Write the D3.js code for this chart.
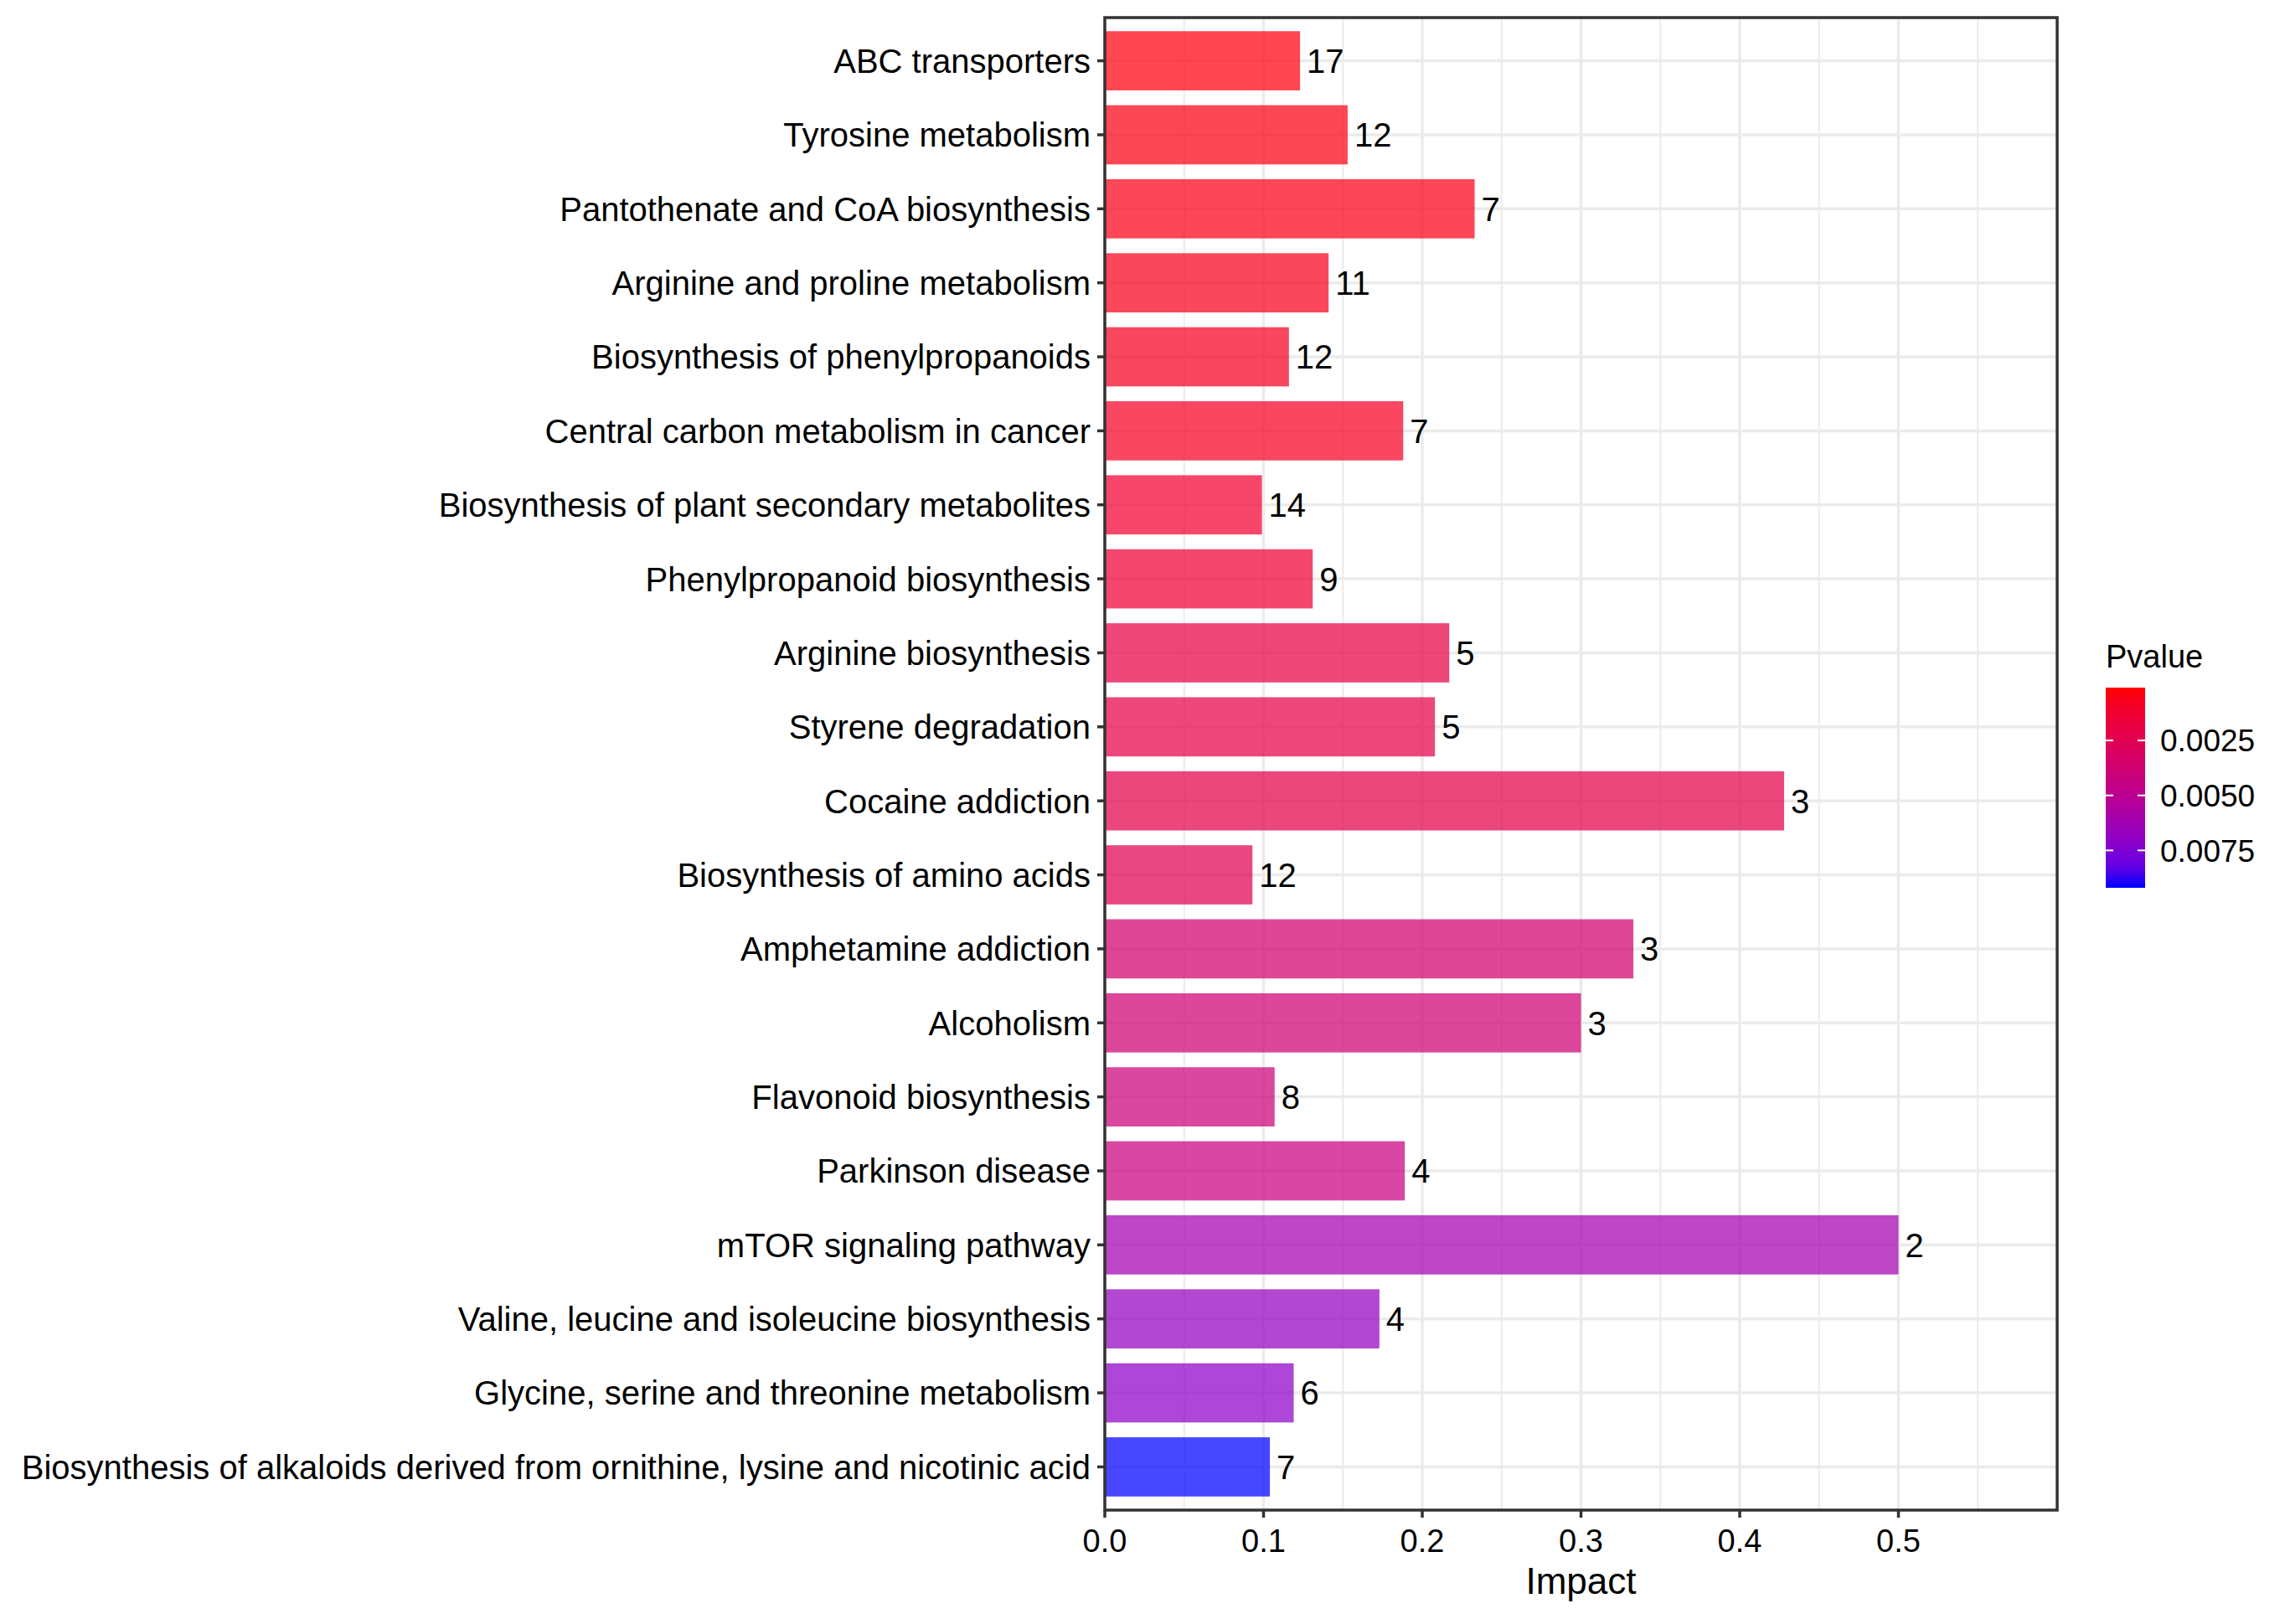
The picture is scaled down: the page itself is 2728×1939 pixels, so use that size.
<!DOCTYPE html>
<html><head><meta charset="utf-8">
<script src="https://cdn.jsdelivr.net/npm/d3@7"></script>
<style>body{margin:0;background:#fff}text{font-family:"Liberation Sans",Arial,sans-serif}</style>
</head><body><svg id="chart" width="2728" height="1939"></svg>
<script>
// pathway data, top to bottom
const pathways = ["ABC transporters","Tyrosine metabolism","Pantothenate and CoA biosynthesis","Arginine and proline metabolism","Biosynthesis of phenylpropanoids","Central carbon metabolism in cancer","Biosynthesis of plant secondary metabolites","Phenylpropanoid biosynthesis","Arginine biosynthesis","Styrene degradation","Cocaine addiction","Biosynthesis of amino acids","Amphetamine addiction","Alcoholism","Flavonoid biosynthesis","Parkinson disease","mTOR signaling pathway","Valine, leucine and isoleucine biosynthesis","Glycine, serine and threonine metabolism","Biosynthesis of alkaloids derived from ornithine, lysine and nicotinic acid"];
const impact = [0.123,0.153,0.233,0.141,0.116,0.188,0.099,0.131,0.217,0.208,0.428,0.093,0.333,0.300,0.107,0.189,0.500,0.173,0.119,0.104];
const counts = [17,12,7,11,12,7,14,9,5,5,3,12,3,3,8,4,2,4,6,7];
const pvalue = [0.0003,0.0004,0.0005,0.0006,0.0008,0.0009,0.0012,0.0014,0.0020,0.0021,0.0022,0.0025,0.0035,0.0038,0.0040,0.0043,0.0062,0.0068,0.0071,0.0092];
const xTicks = [0,0.1,0.2,0.3,0.4,0.5];
const pTicks = [0.0025,0.0050,0.0075];

const svg = d3.select("#chart");
const L = 1319, R = 2456, T = 21, B = 1803;
const x = d3.scaleLinear().domain([0,0.6]).range([L,R]);
const y = d3.scaleBand().domain(pathways).range([T+3,B-3]).paddingInner(0.2).paddingOuter(0.15);
const pMin = 0.0001, pMax = 0.0092;
const col = d3.scaleLinear().domain([pMin,pMax]).range(["#ff0000","#0000ff"]).interpolate(d3.interpolateLab).clamp(true);

// grid
const g = svg.append("g");
d3.range(0,0.6,0.05).forEach((v,i)=>{
  g.append("line").attr("x1",x(v)).attr("x2",x(v)).attr("y1",T).attr("y2",B)
   .attr("stroke","#ebebeb").attr("stroke-width",i%2?2:3.5);
});
pathways.forEach(p=>{
  const cy = y(p)+y.bandwidth()/2;
  g.append("line").attr("x1",L).attr("x2",R).attr("y1",cy).attr("y2",cy).attr("stroke","#ebebeb").attr("stroke-width",3.5);
});

// bars
svg.selectAll("rect.bar").data(pathways).enter().append("rect")
  .attr("x",x(0)).attr("y",d=>y(d)).attr("height",y.bandwidth())
  .attr("width",(d,i)=>x(impact[i])-x(0))
  .attr("fill",(d,i)=>col(pvalue[i])).attr("fill-opacity",0.72);
svg.selectAll("text.cnt").data(pathways).enter().append("text")
  .attr("x",(d,i)=>x(impact[i])+8).attr("y",d=>y(d)+y.bandwidth()/2)
  .attr("dy","0.36em").attr("font-size",40).text((d,i)=>counts[i]);

// panel border
svg.append("rect").attr("x",L).attr("y",T).attr("width",R-L).attr("height",B-T)
  .attr("fill","none").attr("stroke","#333").attr("stroke-width",3.5);

// y axis
pathways.forEach(p=>{
  const cy = y(p)+y.bandwidth()/2;
  svg.append("line").attr("x1",L-9).attr("x2",L).attr("y1",cy).attr("y2",cy).attr("stroke","#333").attr("stroke-width",3.5);
  svg.append("text").attr("x",L-17).attr("y",cy).attr("dy","0.36em").attr("text-anchor","end").attr("font-size",40).text(p);
});
// x axis
xTicks.forEach(v=>{
  svg.append("line").attr("x1",x(v)).attr("x2",x(v)).attr("y1",B).attr("y2",B+9).attr("stroke","#333").attr("stroke-width",3.5);
  svg.append("text").attr("x",x(v)).attr("y",B+50).attr("text-anchor","middle").attr("font-size",38).text(v.toFixed(1));
});
svg.append("text").attr("x",(L+R)/2).attr("y",1903).attr("text-anchor","middle").attr("font-size",44).text("Impact");

// legend
const lx = 2514, lt = 821, lb = 1060, lw = 47;
svg.append("text").attr("x",lx).attr("y",797).attr("font-size",38).text("Pvalue");
const grad = svg.append("defs").append("linearGradient").attr("id","pg").attr("x1",0).attr("x2",0).attr("y1",0).attr("y2",1);
d3.range(0,1.001,0.1).forEach(t=>grad.append("stop").attr("offset",t).attr("stop-color",col(pMin+t*(pMax-pMin))));
svg.append("rect").attr("x",lx).attr("y",lt).attr("width",lw).attr("height",lb-lt).attr("fill","url(#pg)");
const ly = d3.scaleLinear().domain([pMin,pMax]).range([lt,lb]);
pTicks.forEach(v=>{
  [[lx,lx+9],[lx+lw-9,lx+lw]].forEach(([a,b])=>svg.append("line").attr("x1",a).attr("x2",b).attr("y1",ly(v)).attr("y2",ly(v)).attr("stroke","#fff").attr("stroke-width",2));
  svg.append("text").attr("x",lx+lw+18).attr("y",ly(v)).attr("dy","0.36em").attr("font-size",37).text(v.toFixed(4));
});
</script></body></html>
